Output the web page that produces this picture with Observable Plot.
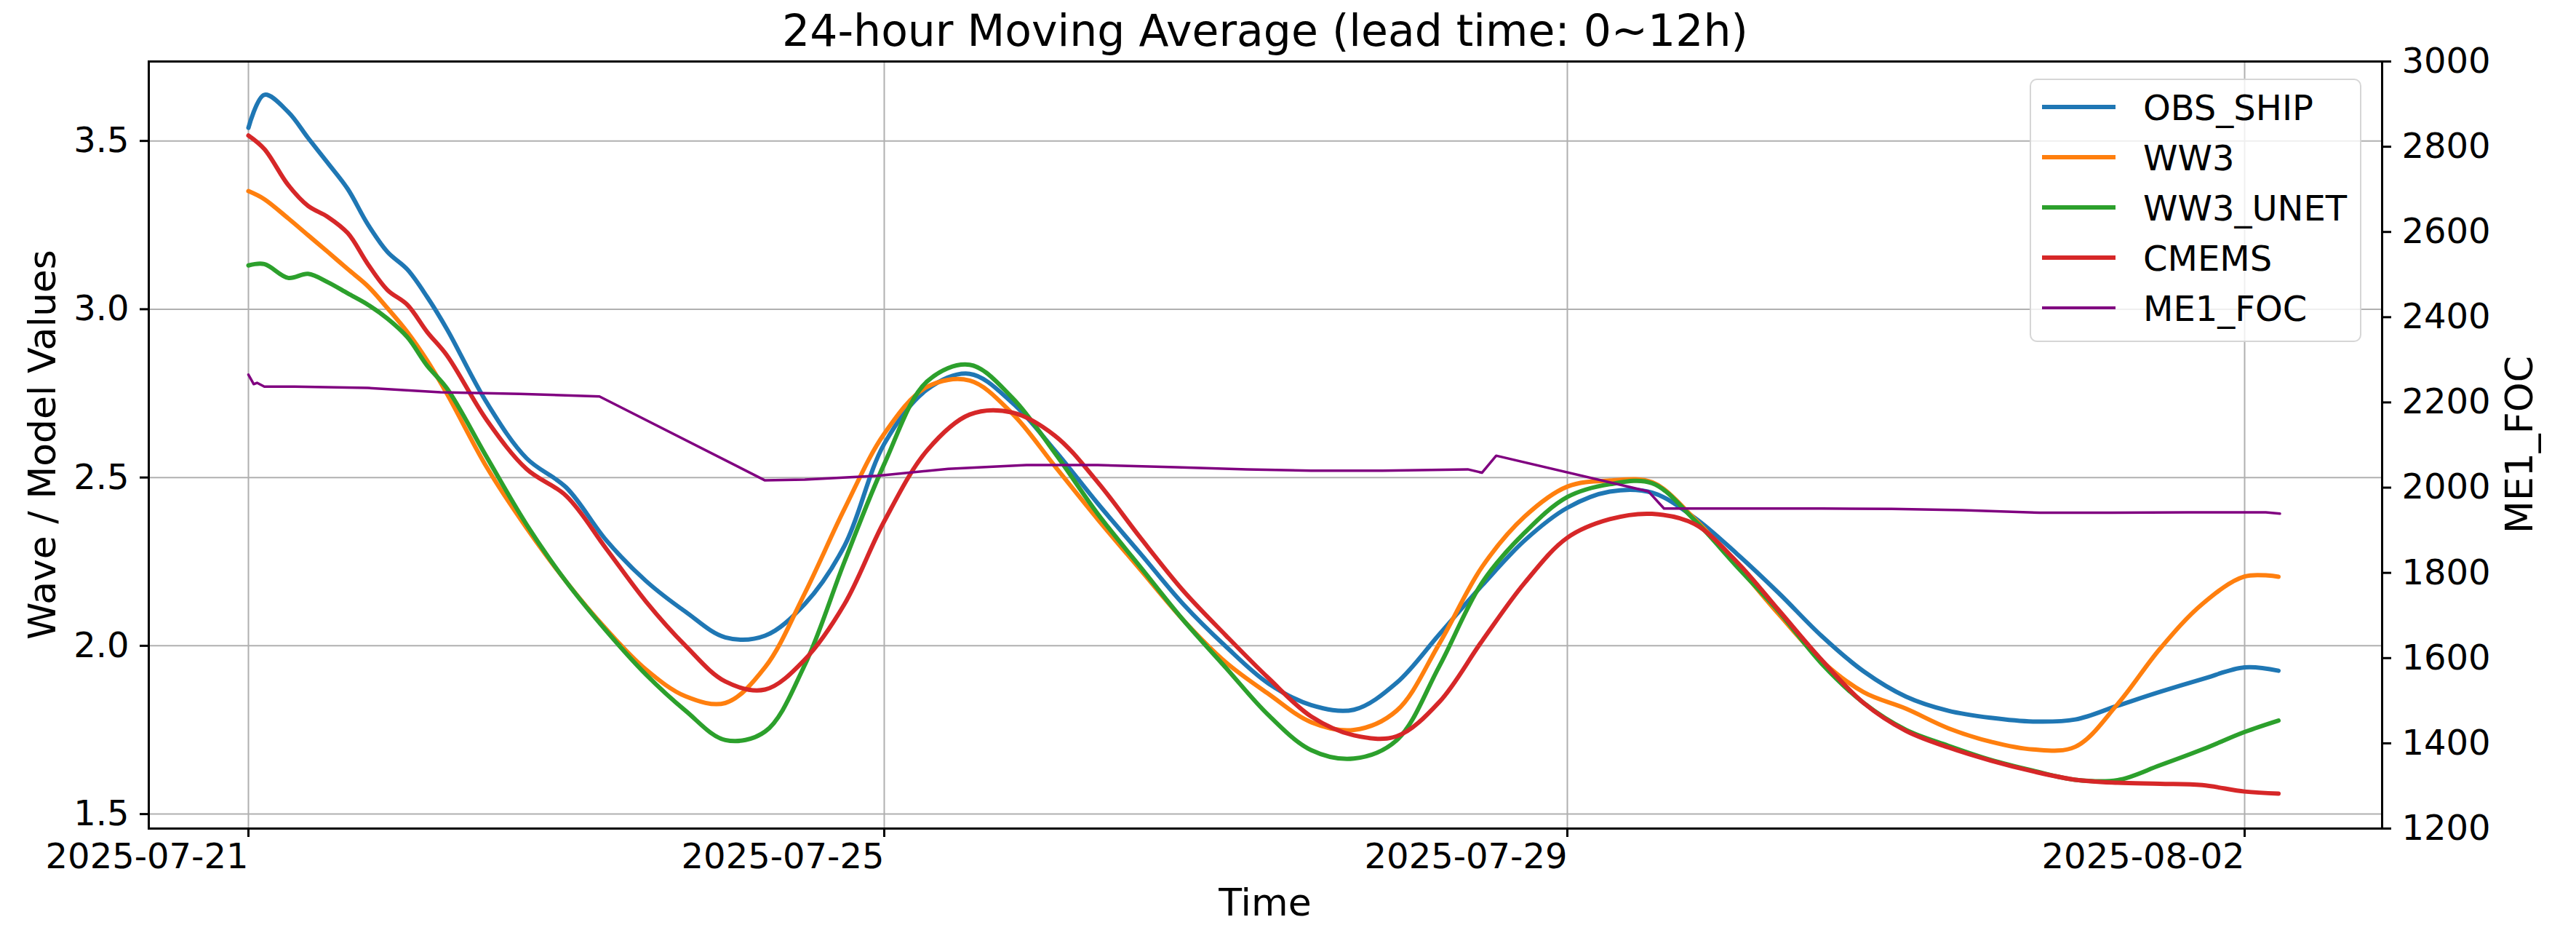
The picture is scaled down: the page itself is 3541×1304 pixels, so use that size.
<!DOCTYPE html>
<html>
<head>
<meta charset="utf-8">
<script src="https://cdn.jsdelivr.net/npm/d3@7"></script>
<script src="https://cdn.jsdelivr.net/npm/@observablehq/plot@0.6"></script>
<style>
  body { margin: 0; background: #fff; }
  #wrap { position: relative; width: 3541px; height: 1304px; font-family: "DejaVu Sans", sans-serif; color: #000; background: #fff; overflow: hidden; }
  #wrap svg { position: absolute; left: 0; top: 0; }
  .lbl { position: absolute; white-space: nowrap; line-height: 1; }
  #legend { position: absolute; left: 2790px; top: 108px; width: 456px; height: 362px; box-sizing: border-box;
            border: 2px solid rgba(204,204,204,0.8); border-radius: 10px; background: rgba(255,255,255,0.8); }
  .lg-line { position: absolute; }
  .lg-text { position: absolute; font-size: 48px; line-height: 1; white-space: nowrap; }
</style>
</head>
<body>
<div id="wrap"></div>
<script>
// ---------------- DATA ----------------
// hours after 2025-07-21 00:00 UTC (shared by the four wave series)
const hours = [0, 2.4, 6, 9, 12, 15, 18, 21, 24, 27, 30, 36, 42, 48, 54, 60, 66, 72, 78, 84, 90, 96, 102,
  108, 114, 120, 126, 132, 138, 144, 150, 156, 162, 168, 174, 180, 186, 192, 198, 204, 210, 216, 222, 228,
  234, 240, 246, 252, 258, 264, 270, 276, 282, 288, 292.8];

const obsShip = [3.539, 3.637, 3.586, 3.509, 3.434, 3.357, 3.253, 3.170, 3.118, 3.036, 2.940,
  2.722, 2.557, 2.470, 2.314, 2.193, 2.101, 2.025, 2.030, 2.124, 2.297, 2.600, 2.761, 2.808, 2.722, 2.580,
  2.423, 2.274, 2.124, 1.998, 1.888, 1.824, 1.810, 1.890, 2.034, 2.179, 2.313, 2.410, 2.458, 2.455, 2.381,
  2.274, 2.156, 2.030, 1.924, 1.849, 1.807, 1.786, 1.775, 1.781, 1.822, 1.863, 1.901, 1.936, 1.926];

const ww3 = [3.351, 3.327, 3.270, 3.220, 3.170, 3.119, 3.069, 3.003, 2.932, 2.847, 2.748,
  2.530, 2.350, 2.190, 2.050, 1.930, 1.850, 1.830, 1.936, 2.156, 2.407, 2.630, 2.769, 2.788, 2.690, 2.533,
  2.376, 2.226, 2.077, 1.951, 1.857, 1.773, 1.750, 1.807, 2.006, 2.234, 2.384, 2.473, 2.491, 2.486, 2.378,
  2.240, 2.093, 1.956, 1.862, 1.813, 1.755, 1.715, 1.692, 1.700, 1.827, 1.991, 2.124, 2.206, 2.205];

const ww3Unet = [3.130, 3.134, 3.093, 3.105, 3.080, 3.047, 3.014, 2.972, 2.917, 2.832, 2.764,
  2.560, 2.360, 2.190, 2.045, 1.915, 1.807, 1.720, 1.745, 1.943, 2.250, 2.540, 2.785, 2.835, 2.737, 2.572,
  2.392, 2.234, 2.077, 1.935, 1.794, 1.690, 1.665, 1.719, 1.939, 2.187, 2.336, 2.442, 2.480, 2.483, 2.374,
  2.236, 2.101, 1.948, 1.830, 1.750, 1.703, 1.661, 1.629, 1.602, 1.601, 1.645, 1.692, 1.744, 1.778];

const cmems = [3.516, 3.476, 3.369, 3.307, 3.274, 3.226, 3.135, 3.057, 3.013, 2.932, 2.862,
  2.670, 2.525, 2.445, 2.289, 2.132, 2.000, 1.894, 1.870, 1.959, 2.124, 2.370, 2.580, 2.687, 2.693, 2.624,
  2.486, 2.321, 2.164, 2.031, 1.904, 1.790, 1.734, 1.731, 1.833, 2.014, 2.187, 2.321, 2.376, 2.392, 2.362,
  2.250, 2.105, 1.959, 1.830, 1.747, 1.698, 1.659, 1.627, 1.602, 1.593, 1.590, 1.586, 1.567, 1.561];

// ME1_FOC (right axis), its own time stamps (hours after 2025-07-21 00:00 UTC)
const focHours = [0, 0.8, 1.3, 2.4, 7, 18, 29, 41, 53, 78, 84, 95, 105, 116, 126, 137, 147, 156, 166,
  178, 180, 182, 203.5, 205.7, 217, 228, 238, 248, 259, 269, 280, 291, 293];
const me1Foc = [2265, 2243, 2246, 2237, 2237, 2234, 2224, 2220, 2214, 2017, 2019, 2028, 2044, 2053, 2053,
  2048, 2043, 2040, 2040, 2043, 2035, 2075, 1991, 1951, 1951, 1951, 1950, 1947, 1941, 1941, 1942, 1942, 1939];

const seriesNames = ["OBS_SHIP", "WW3", "WW3_UNET", "CMEMS", "ME1_FOC"];
const xTickLabels = ["2025-07-21", "2025-07-25", "2025-07-29", "2025-08-02"];
const leftTicks = [1.5, 2.0, 2.5, 3.0, 3.5];
const rightTicks = [1200, 1400, 1600, 1800, 2000, 2200, 2400, 2600, 2800, 3000];
const titleText = "24-hour Moving Average (lead time: 0~12h)";
const xLabel = "Time", yLabel = "Wave / Model Values", y2Label = "ME1_FOC";

// ---------------- STYLE / LAYOUT ----------------
const colors = ["#1f77b4", "#ff7f0e", "#2ca02c", "#d62728", "#800080"];
const W = 3541, H = 1304;
const yLo = 1.457, yHi = 3.736;      // left axis limits
const rLo = 1200, rHi = 3000;        // right axis limits
const toLeft = r => yLo + (r - rLo) * (yHi - yLo) / (rHi - rLo);
const toRight = v => rLo + (v - yLo) * (rHi - rLo) / (yHi - yLo);
const base = Date.UTC(2025, 6, 21);
const toDate = h => new Date(base + h * 3600e3);
const DAY = 864e5;
const tickDates = xTickLabels.map(s => new Date(s + "T00:00:00Z"));
const xDomain = [new Date(base - 0.627 * DAY), ...tickDates, new Date(tickDates[3].getTime() + 0.812 * DAY)];
const xRange = [204, 341, 1215, 2154, 3085, 3274];

const waveRows = [];
[obsShip, ww3, ww3Unet, cmems].forEach((vals, i) =>
  vals.forEach((v, j) => waveRows.push({series: seriesNames[i], time: toDate(hours[j]), value: v})));
const focRows = me1Foc.map((r, j) => ({time: toDate(focHours[j]), value: toLeft(r)}));

const gridStyle = {stroke: "#b0b0b0", strokeOpacity: 1, strokeWidth: 2};
const axisCommon = {tickSize: 12, fontSize: 48, strokeWidth: 3, label: null};

const chart = Plot.plot({
  width: W, height: H,
  marginLeft: 204, marginRight: 267, marginTop: 84, marginBottom: 166,
  style: {fontFamily: "DejaVu Sans", fontSize: "48px", background: "white", color: "black", overflow: "visible"},
  x: {type: "utc", domain: xDomain, range: xRange},
  y: {domain: [yLo, yHi]},
  color: {domain: seriesNames, range: colors},
  marks: [
    Plot.gridX({ticks: tickDates, ...gridStyle}),
    Plot.gridY({ticks: leftTicks, ...gridStyle}),
    Plot.line(waveRows, {x: "time", y: "value", z: "series", stroke: "series", strokeWidth: 6,
      curve: "catmull-rom", strokeLinejoin: "round"}),
    Plot.line(focRows, {x: "time", y: "value", stroke: colors[4], strokeWidth: 3.5, strokeLinejoin: "round"}),
    Plot.axisX({ticks: tickDates, tickFormat: d3.utcFormat("%Y-%m-%d"), tickPadding: 8, textAnchor: "end", ...axisCommon}),
    Plot.axisY({anchor: "left", ticks: leftTicks, tickFormat: d3.format(".1f"), tickPadding: 15, ...axisCommon}),
    Plot.axisY({anchor: "right", ticks: rightTicks.map(toLeft), tickFormat: v => String(Math.round(toRight(v))),
      tickPadding: 15, ...axisCommon}),
    Plot.frame({stroke: "black", strokeWidth: 3})
  ]
});

const wrap = document.getElementById("wrap");
wrap.appendChild(chart);

function addLabel(text, size, cx, cy, rotate) {
  const d = document.createElement("div");
  d.className = "lbl";
  d.textContent = text;
  d.style.fontSize = size + "px";
  d.style.left = cx + "px";
  d.style.top = cy + "px";
  d.style.transform = "translate(-50%, -50%)" + (rotate ? " rotate(" + rotate + "deg)" : "");
  wrap.appendChild(d);
}
// centers of the em boxes (baseline - 0.346em)
addLabel(titleText, 60, 1739, 63 - 0.346 * 60);
addLabel(xLabel, 52, 1739, 1258 - 0.346 * 52);
addLabel(yLabel, 52, 58, 611, -90);
addLabel(y2Label, 52, 3463, 611, -90);

// legend
const lg = document.createElement("div");
lg.id = "legend";
wrap.appendChild(lg);
seriesNames.forEach((name, i) => {
  const cy = 147 + 69 * i;
  const lw = i === 4 ? 4 : 6;
  const ln = document.createElement("div");
  ln.className = "lg-line";
  ln.style.left = "2807px"; ln.style.width = "101px";
  ln.style.top = (cy - lw / 2) + "px"; ln.style.height = lw + "px";
  ln.style.background = colors[i];
  wrap.appendChild(ln);
  const tx = document.createElement("div");
  tx.className = "lg-text";
  tx.textContent = name;
  tx.style.left = "2946px";
  tx.style.top = (cy + 0.365 * 48 - 0.846 * 48) + "px";
  wrap.appendChild(tx);
});
</script>
</body>
</html>
